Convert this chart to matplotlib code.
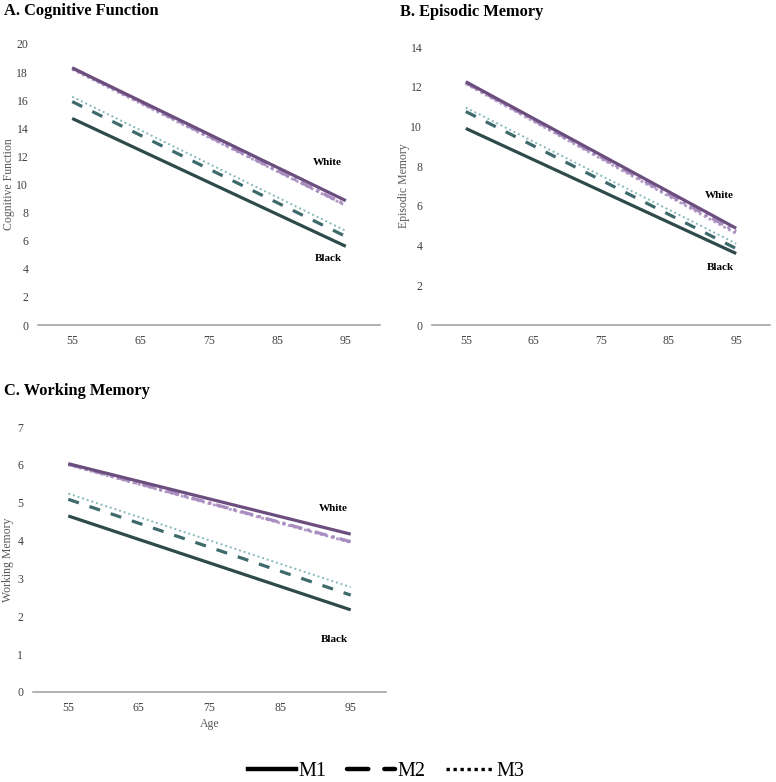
import matplotlib
matplotlib.use("Agg")
import matplotlib.pyplot as plt
from matplotlib.lines import Line2D

plt.rcParams['font.family'] = ['Liberation Serif', 'DejaVu Serif']

# data: endpoint values at age 55 and 95
ages = [55, 95]
age_ticks = [55, 65, 75, 85, 95]

cog_white = {"M1": [18.3, 8.85], "M2": [18.3, 8.55], "M3": [18.2, 8.5]}
cog_black = {"M1": [14.7, 5.6], "M2": [15.9, 6.3], "M3": [16.25, 6.7]}

epi_white = {"M1": [12.25, 4.87], "M2": [12.2, 4.7], "M3": [12.15, 4.6]}
epi_black = {"M1": [9.9, 3.6], "M2": [10.75, 3.85], "M3": [10.95, 4.1]}

wm_white = {"M1": [6.03, 4.17], "M2": [6.02, 3.97], "M3": [6.0, 3.95]}
wm_black = {"M1": [4.65, 2.17], "M2": [5.09, 2.56], "M3": [5.24, 2.77]}

models = ["M1", "M2", "M3"]

white_col = {"M1": "#6b4e7e", "M2": "#a98dc0", "M3": "#b59cc8"}
black_col = {"M1": "#2e4a4a", "M2": "#3e6a6c", "M3": "#86b8bc"}
styles = {"M1": dict(ls="-", lw=2.3),
          "M2": dict(ls=(0, (3.5, 3.5)), lw=2.3),
          "M3": dict(ls=(0, (1, 1.5)), lw=1.4)}
white_styles = {"M1": dict(ls="-", lw=2.3),
                "M2": dict(ls=(0, (4, 1.5, 1, 1.5)), lw=2.3),
                "M3": dict(ls=(0, (1, 1)), lw=2.0)}

fig = plt.figure(figsize=(7.76, 7.82), dpi=100)
W, H = 776, 782


def make_ax(left, right, bottom, top):
    return fig.add_axes([left / W, (H - bottom) / H, (right - left) / W, (bottom - top) / H])


def draw_panel(ax, white, black, ymax, ylabel, ylab_x, wlab, blab, xlabel=None):
    for m in models:
        ax.plot(ages, black[m], color=black_col[m], solid_capstyle="butt",
                dash_capstyle="butt", **styles[m])
    for m in ["M3", "M2", "M1"]:
        ax.plot(ages, white[m], color=white_col[m], solid_capstyle="butt", **white_styles[m])
    ax.set_xlim(50, 100)
    ax.set_ylim(0, ymax)
    ax.set_xticks(age_ticks)
    step = 2 if ymax > 7 else 1
    ax.set_yticks(range(0, ymax + 1, step))
    for s in ["top", "right", "left"]:
        ax.spines[s].set_visible(False)
    ax.spines["bottom"].set_color("#a6a6a6")
    ax.spines["bottom"].set_linewidth(1.2)
    ax.tick_params(length=0, labelsize=8.5, labelcolor="#404040", pad=7)
    ax.set_ylabel(ylabel, fontsize=8.5, color="#595959")
    ax.yaxis.set_label_coords(ylab_x, 0.5)
    if xlabel:
        ax.set_xlabel(xlabel, fontsize=8.5, color="#595959", labelpad=3)
    ax.text(wlab[0], wlab[1], "White", fontsize=8, fontweight="bold", ha="center", va="center")
    ax.text(blab[0], blab[1], "Black", fontsize=8, fontweight="bold", ha="center", va="center")
    return ax


axA = make_ax(38, 380, 325, 44)
draw_panel(axA, cog_white, cog_black, 20, "Cognitive Function", -0.068, (92.3, 11.6), (92.5, 4.7))
axB = make_ax(432, 770, 325, 47)
draw_panel(axB, epi_white, epi_black, 14, "Episodic Memory", -0.066, (92.5, 6.5), (92.7, 2.9))
axC = make_ax(33, 386, 692, 427)
draw_panel(axC, wm_white, wm_black, 7, "Working Memory", -0.054, (92.6, 4.85), (92.7, 1.4), xlabel="Age")

fig.text(4 / W, 1 - 11 / H, "A. Cognitive Function", fontsize=11.8, fontweight="bold", va="center")
fig.text(400 / W, 1 - 12 / H, "B. Episodic Memory", fontsize=11.8, fontweight="bold", va="center")
fig.text(4 / W, 1 - 391 / H, "C. Working Memory", fontsize=11.8, fontweight="bold", va="center")

handles = [Line2D([], [], color="black", ls="-", lw=3.2),
           Line2D([], [], color="black", ls=(0, (4.8, 3.6)), lw=3.2, dash_capstyle="round"),
           Line2D([], [], color="black", ls=(0, (1.0, 1.1)), lw=2.4)]
fig.legend(handles, models, loc="center", bbox_to_anchor=(386 / W, 1 - 771 / H),
           ncol=3, frameon=False, fontsize=14.5, handlelength=2.4, handletextpad=0.12,
           columnspacing=1.0, borderaxespad=0)

fig.savefig("out.png", dpi=100)
